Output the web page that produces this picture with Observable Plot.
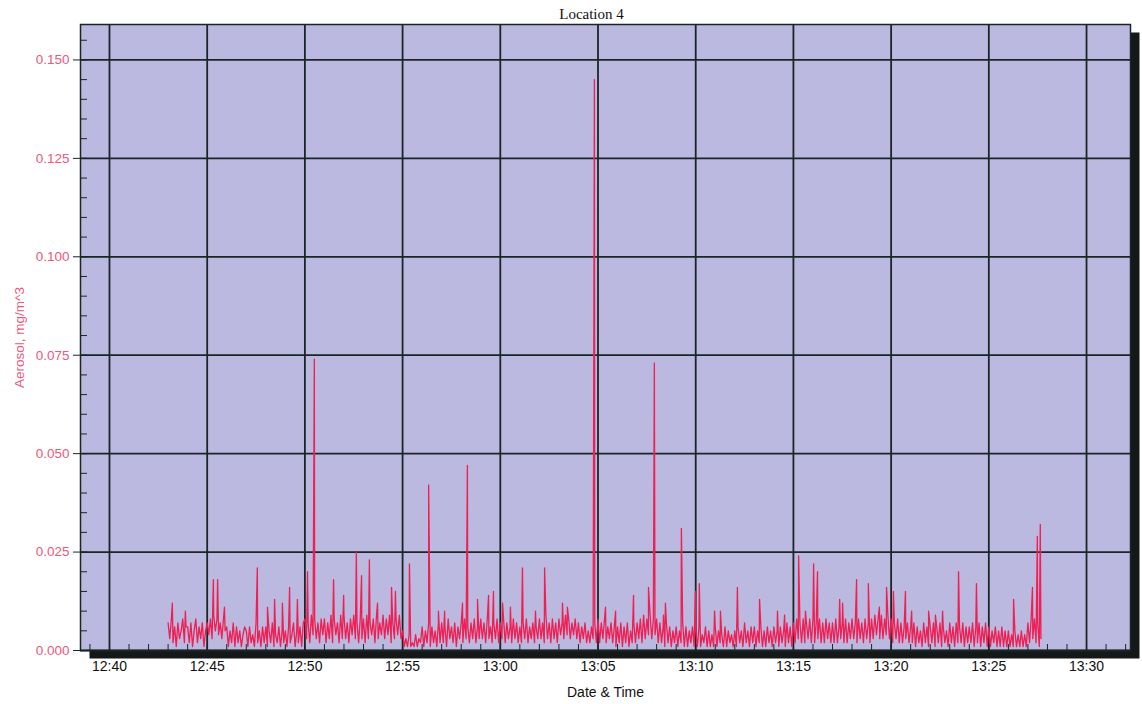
<!DOCTYPE html>
<html><head><meta charset="utf-8">
<script src="https://cdn.jsdelivr.net/npm/d3@7"></script>
<script src="https://cdn.jsdelivr.net/npm/@observablehq/plot@0.6"></script>
<style>body{margin:0;background:#fff}#chart svg{display:block}</style>
</head><body><div id="chart"></div>
<script>
const title = "Location 4";
const yLabel = "Aerosol, mg/m^3";
const xLabel = "Date & Time";
const xTickLabels = ["12:40","12:45","12:50","12:55","13:00","13:05","13:10","13:15","13:20","13:25","13:30"];
const yTicks = [0, 0.025, 0.05, 0.075, 0.1, 0.125, 0.15];
const xDomainTimes = ["12:38:31", "13:32:15"];
const yDomain = [0, 0.159];

// Baseline readings, µg/m³ (= 0.001 mg/m³), every 5 s from 12:43:00
const startTime = "12:43:00";
const stepSeconds = 5;
const baseUg = [
  7,3,8,2,6,1,7,3,5,8,2,6, // 12:43
  6,2,7,1,5,8,2,6,3,7,1,5, // 12:44
  7,4,8,3,9,5,8,4,7,3,8,5, // 12:45
  6,1,5,2,7,1,6,2,5,1,4,6, // 12:46
  5,1,6,2,4,1,7,2,5,1,6,2, // 12:47
  6,1,5,2,7,1,4,2,6,1,5,2, // 12:48
  5,1,6,2,4,7,1,5,2,6,1,7, // 12:49
  8,3,7,2,9,4,8,3,7,2,8,4, // 12:50
  8,2,7,3,9,2,8,4,7,2,9,3, // 12:51
  9,3,7,2,8,4,9,3,7,2,8,3, // 12:52
  8,2,9,3,7,4,8,2,9,3,7,4, // 12:53
  9,3,8,4,9,2,7,3,8,4,9,3, // 12:54
  5,1,3,1,4,1,2,1,4,1,3,2, // 12:55
  6,1,5,2,7,1,6,2,5,1,7,2, // 12:56
  7,2,6,1,8,3,6,2,7,1,6,3, // 12:57
  7,2,8,3,6,2,7,3,8,2,6,3, // 12:58
  8,3,7,2,8,3,6,2,7,3,8,2, // 12:59
  7,3,8,2,7,3,6,2,8,3,7,2, // 13:00
  6,2,7,3,8,2,6,3,7,2,6,3, // 13:01
  8,3,7,2,9,3,7,2,8,3,7,2, // 13:02
  8,4,7,3,9,4,8,3,7,4,8,3, // 13:03
  7,2,6,3,7,2,5,2,6,3,7,2, // 13:04
  8,2,7,3,8,2,6,3,7,2,6,1, // 13:05
  6,2,7,1,6,2,7,1,5,2,7,2, // 13:06
  7,3,8,2,9,3,8,4,9,3,8,4, // 13:07
  8,2,7,2,6,1,7,2,6,1,5,2, // 13:08
  6,1,5,2,7,1,6,1,5,2,6,1, // 13:09
  5,1,6,1,4,2,6,1,5,1,4,1, // 13:10
  6,1,5,2,4,1,6,1,5,2,4,1, // 13:11
  5,1,6,2,5,1,7,2,5,1,6,2, // 13:12
  6,1,5,2,6,1,5,1,6,2,5,1, // 13:13
  6,2,5,1,6,2,5,1,7,2,6,1, // 13:14
  7,2,8,3,7,2,8,2,7,3,8,2, // 13:15
  8,2,7,3,8,2,7,2,8,3,7,2, // 13:16
  7,2,8,2,6,3,7,2,8,2,7,3, // 13:17
  8,3,7,2,8,3,7,2,8,3,7,2, // 13:18
  8,3,9,4,8,3,9,3,8,4,9,3, // 13:19
  8,2,7,3,8,2,7,2,6,3,7,2, // 13:20
  6,2,7,1,6,2,5,1,7,2,6,1, // 13:21
  6,2,7,1,6,2,7,1,6,2,5,1, // 13:22
  7,2,6,1,7,2,6,2,7,1,6,2, // 13:23
  6,2,7,1,6,2,7,1,6,2,7,1, // 13:24
  6,1,5,2,6,1,5,1,6,1,5,1, // 13:25
  5,1,4,1,5,1,4,1,5,1,4,1, // 13:26
  7,2,8,3,8,2,7,1,3        // 13:27
];

// Short peaks
const spikeTimes = [
  "12:43:13","12:43:53","12:45:19","12:45:32","12:45:53","12:47:34","12:48:05","12:48:27","12:48:51",
  "12:49:13","12:49:37","12:50:08","12:50:29","12:51:28","12:51:59","12:52:38","12:52:54","12:53:18",
  "12:53:43","12:54:26","12:54:38","12:55:21","12:56:20","12:56:50","12:57:09","12:58:04","12:58:19",
  "12:58:50","12:59:24","12:59:39","13:00:07","13:00:31","13:01:08","13:01:48","13:02:16","13:03:11",
  "13:03:26","13:04:49","13:05:23","13:05:54","13:06:49","13:07:35","13:07:53","13:08:21","13:08:27",
  "13:09:16","13:09:59","13:10:11","13:10:58","13:11:16","13:12:08","13:13:16","13:14:11","13:14:33",
  "13:15:16","13:15:37","13:16:02","13:16:14","13:17:22","13:17:31","13:18:14","13:18:50","13:19:24",
  "13:19:46","13:20:07","13:20:44","13:21:03","13:21:55","13:22:16","13:22:38","13:23:27","13:24:22",
  "13:26:16","13:27:14","13:27:29","13:27:38"
];
const spikeUg = [
  12,10,18,18,11,21,11,13,12,
  16,13,20,74,18,14,25,19,23,
  12,16,15,22,42,10,10,12,47,
  13,14,15,12,11,21,10,21,12,
  11,145,11,10,14,16,73,9,12,
  31,15,17,10,10,16,13,10,9,
  24,10,22,20,13,12,18,17,11,
  16,15,15,10,10,9,10,20,17,
  13,16,29,32
];

const toDate = s => { const [h,m,sec] = s.split(":").map(Number); return new Date(Date.UTC(2000,0,1,h,m,sec)); };
const t0 = toDate(startTime);
const series = baseUg.map((v, i) => ({t: new Date(+t0 + i * stepSeconds * 1000), v: v / 1000}))
  .concat(spikeTimes.map((s, i) => ({t: toDate(s), v: spikeUg[i] / 1000})))
  .sort((a, b) => a.t - b.t);

const xTickDates = xTickLabels.map(s => toDate(s + ":00"));
const xDomain = xDomainTimes.map(toDate);
const xMinor = d3.utcMinute.range(xDomain[0], xDomain[1]);
const yMinor = d3.range(0, 0.1575, 0.005);

const pink = "#ea5a7c";
const ink = "#1a2626";

const chart = Plot.plot({
  width: 1142, height: 704,
  marginLeft: 80, marginRight: 12, marginTop: 24, marginBottom: 54,
  style: {fontFamily: "Liberation Sans, Arial, sans-serif", background: "#fff"},
  x: {type: "utc", domain: xDomain},
  y: {domain: yDomain},
  marks: [
    Plot.frame({fill: "#151818", dx: 9, dy: 8}),
    Plot.frame({fill: "#bcb9e0", stroke: ink, strokeWidth: 1.5}),
    Plot.gridX(xTickDates, {stroke: ink, strokeOpacity: 1, strokeWidth: 1.8}),
    Plot.gridY(yTicks, {stroke: ink, strokeOpacity: 1, strokeWidth: 1.8}),
    Plot.lineY(series, {x: "t", y: "v", stroke: "#ee1f53", strokeWidth: 1.3}),
    Plot.axisY(yTicks, {tickSize: 7, text: null, label: null, stroke: ink}),
    Plot.axisY(yMinor, {tickSize: -7, text: null, label: null, stroke: ink}),
    Plot.axisY(yTicks, {tickSize: 0, tickPadding: 11, tickFormat: d3.format(".3f"), fill: pink, fontSize: 13.5,
      label: yLabel, labelAnchor: "center", labelArrow: "none", labelOffset: 66}),
    Plot.axisX(xMinor, {tickSize: -6, text: null, label: null, stroke: ink}),
    Plot.axisX(xTickDates, {tickSize: 0, tickPadding: 11, tickFormat: d3.utcFormat("%H:%M"), fill: "#111", fontSize: 14,
      label: xLabel, labelAnchor: "center", labelArrow: "none", labelOffset: 46}),
    Plot.text([title], {frameAnchor: "top", dy: -16, dx: -14, fontFamily: "Liberation Serif, Times New Roman, serif", fontSize: 15, fill: "#111"})
  ]
});
document.getElementById("chart").append(chart);
</script>
</body></html>
